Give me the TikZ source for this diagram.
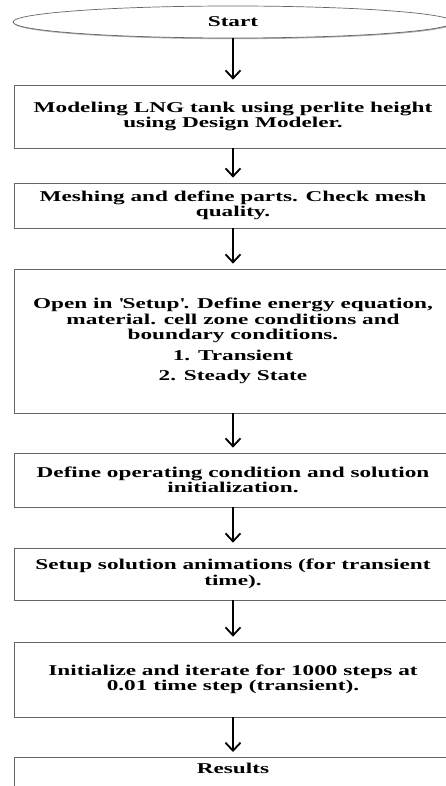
\documentclass[tikz,border=0pt]{standalone}
\usepackage{fontspec}
\newfontfamily\flowfont[FakeStretch=1.55]{Liberation Serif}
\usetikzlibrary{shapes.geometric,arrows.meta,shadows}

\begin{document}
\begin{tikzpicture}[x=1pt,y=1pt,
        font=\flowfont\bfseries\fontsize{15}{15.5}\selectfont,
        flowbox/.style={draw=black!60, line width=0.7pt, fill=white, align=center,
            minimum width=438pt, inner sep=0pt,
            drop shadow={shadow xshift=0.8pt, shadow yshift=-1.2pt, fill=black!40, opacity=0.8}},
        flowarrow/.style={-{Straight Barb[length=8pt,width=15pt]}, line width=1.8pt, shorten >=5pt}]%
        \useasboundingbox (0,0) rectangle (445,-786);
        % steps
        \node[flowbox, ellipse, minimum width=440pt, minimum height=32pt] (start) at (233,-22) {Start};
        \node[flowbox, minimum height=63pt] (model) at (233,-116.5) {Modeling LNG tank using perlite height\\using Design Modeler.};
        \node[flowbox, minimum height=45pt] (mesh) at (233,-205.5) {Meshing and define parts. Check mesh\\quality.};
        \node[flowbox, minimum height=144pt] (setup) at (233,-341) {Open in \textquotesingle Setup\textquotesingle. Define energy equation,\\material. cell zone conditions and\\boundary conditions.\\[5pt]1. Transient\\[5pt]2. Steady State};
        \node[flowbox, minimum height=54pt] (oper) at (233,-480) {Define operating condition and solution\\initialization.};
        \node[flowbox, minimum height=52pt] (anim) at (233,-574) {Setup solution animations (for transient\\time).};
        \node[flowbox, minimum height=75pt] (iter) at (233,-679.5) {Initialize and iterate for 1000 steps at\\0.01 time step (transient).};
        \node[flowbox, anchor=north, inner ysep=6pt, text depth=30pt] (results) at (233,-757) {Results};
        % arrows
        \draw[flowarrow] (start) -- (model);
        \draw[flowarrow] (model) -- (mesh);
        \draw[flowarrow] (mesh) -- (setup);
        \draw[flowarrow] (setup) -- (oper);
        \draw[flowarrow] (oper) -- (anim);
        \draw[flowarrow] (anim) -- (iter);
        \draw[flowarrow] (iter) -- (results);
    \end{tikzpicture}
\end{document}
